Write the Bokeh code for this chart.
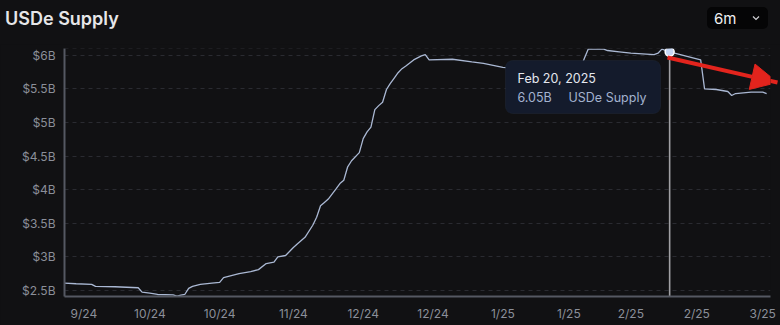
import pandas as pd
from bokeh.plotting import figure
from bokeh.layouts import column
from bokeh.models import (Range1d, FixedTicker, Label, BoxAnnotation, Arrow,
                          NormalHead, Span, Div)
from bokeh.embed import file_html
from bokeh.resources import INLINE

# ---------------- data ----------------
dates = [
    "2024-09-17", "2024-09-20", "2024-09-24", "2024-09-25", "2024-09-30",
    "2024-10-06", "2024-10-07", "2024-10-09", "2024-10-11", "2024-10-15",
    "2024-10-16", "2024-10-17", "2024-10-18", "2024-10-19", "2024-10-20",
    "2024-10-22", "2024-10-25", "2024-10-27", "2024-10-28", "2024-11-01",
    "2024-11-04", "2024-11-06", "2024-11-08", "2024-11-10", "2024-11-11",
    "2024-11-13", "2024-11-15", "2024-11-16", "2024-11-18", "2024-11-20",
    "2024-11-21", "2024-11-22", "2024-11-23", "2024-11-24", "2024-11-26",
    "2024-11-27", "2024-11-28", "2024-11-29", "2024-11-30", "2024-12-02",
    "2024-12-03", "2024-12-04", "2024-12-05", "2024-12-06", "2024-12-07",
    "2024-12-08", "2024-12-09", "2024-12-10", "2024-12-11", "2024-12-12",
    "2024-12-13", "2024-12-14", "2024-12-16", "2024-12-18", "2024-12-19",
    "2024-12-20", "2024-12-26", "2024-12-31", "2025-01-03", "2025-01-08",
    "2025-01-14", "2025-01-21", "2025-01-28", "2025-01-29", "2025-01-30",
    "2025-02-03", "2025-02-04", "2025-02-07", "2025-02-10", "2025-02-16",
    "2025-02-17", "2025-02-18", "2025-02-20", "2025-02-24", "2025-02-28",
    "2025-03-01", "2025-03-04", "2025-03-07", "2025-03-08", "2025-03-09",
    "2025-03-13", "2025-03-16", "2025-03-17",
]
supply_b = [
    2.61, 2.60, 2.59, 2.56, 2.555,
    2.54, 2.475, 2.46, 2.44, 2.435,
    2.415, 2.43, 2.44, 2.53, 2.56,
    2.59, 2.61, 2.62, 2.69, 2.75,
    2.78, 2.81, 2.90, 2.92, 3.00,
    3.02, 3.14, 3.19, 3.29, 3.47,
    3.59, 3.76, 3.81, 3.86, 4.01,
    4.09, 4.14, 4.34, 4.43, 4.55,
    4.76, 4.86, 4.93, 5.19, 5.25,
    5.30, 5.49, 5.58, 5.66, 5.74,
    5.80, 5.84, 5.93, 5.99, 6.01,
    5.93, 5.94, 5.90, 5.88, 5.82,
    5.80, 5.79, 5.80, 5.95, 6.09,
    6.09, 6.07, 6.05, 6.03, 6.01,
    6.03, 6.09, 6.05, 5.99, 5.93,
    5.50, 5.49, 5.46, 5.40, 5.43,
    5.45, 5.45, 5.43,
]

y_ticks = [2.5, 3, 3.5, 4, 4.5, 5, 5.5, 6]
y_tick_labels = ["$2.5B", "$3B", "$3.5B", "$4B", "$4.5B", "$5B", "$5.5B", "$6B"]

x_tick_dates = ["2024-09-22", "2024-10-09", "2024-10-27", "2024-11-15",
                "2024-12-03", "2024-12-21", "2025-01-08", "2025-01-25",
                "2025-02-10", "2025-02-27", "2025-03-16"]
x_tick_labels = ["9/24", "10/24", "10/24", "11/24", "12/24", "12/24",
                 "1/25", "1/25", "2/25", "2/25", "3/25"]

x_start, x_end = "2024-09-17", "2025-03-18"
y_start, y_end = 2.41, 6.10

title_text = "USDe Supply"
range_text = "6m"
tip_date = "2025-02-20"
tip_value = 6.05
tip_date_label = "Feb 20, 2025"
tip_value_label = "6.05B"
series_name = "USDe Supply"

# ---------------- styling ----------------
BG = "#111113"
TICK_COL = "#8b8f99"
FONT = "Inter"
HEADER_H = 44

header = Div(
    text=f"""
<div style="position:relative;width:780px;height:{HEADER_H + 2}px;background:{BG};
            font-family:Inter, 'Noto Sans', sans-serif;overflow:hidden;">
  <span style="position:absolute;left:5px;top:6px;font-size:18px;font-weight:600;
               color:#e6e6e8;">{title_text}</span>
  <div style="position:absolute;left:707px;top:7px;width:61px;height:22px;
              background:#050506;border-radius:5px;">
    <span style="position:absolute;left:7px;top:1px;font-size:15px;color:#f0f0f2;">{range_text}</span>
    <svg style="position:absolute;left:45px;top:8px" width="8" height="6" viewBox="0 0 8 6">
      <polyline points="1,1.5 4,4.5 7,1.5" fill="none" stroke="#d0d0d4" stroke-width="1.2"/>
    </svg>
  </div>
</div>""",
    width=780, height=HEADER_H, margin=0,
    styles={"background-color": BG, "margin": "0", "padding": "0", "overflow": "hidden"})

xs = pd.to_datetime(dates)
p = figure(width=780, height=325 - HEADER_H, x_axis_type="datetime",
           x_range=Range1d(pd.Timestamp(x_start), pd.Timestamp(x_end)),
           y_range=Range1d(y_start, y_end),
           output_backend="svg", toolbar_location=None, title=None,
           min_border_left=64, min_border_right=10,
           min_border_top=4, min_border_bottom=29, margin=0)
p.background_fill_color = BG
p.border_fill_color = BG
p.outline_line_color = None

# axes
tick_ms = [int(pd.Timestamp(d).value // 10**6) for d in x_tick_dates]
p.xaxis.ticker = FixedTicker(ticks=tick_ms)
p.xaxis.major_label_overrides = {t: l for t, l in zip(tick_ms, x_tick_labels)}
p.yaxis.ticker = FixedTicker(ticks=y_ticks)
p.yaxis.major_label_overrides = {
    (int(t) if float(t).is_integer() else t): l for t, l in zip(y_ticks, y_tick_labels)}
for ax in (p.xaxis, p.yaxis):
    ax.axis_line_color = "#555862"
    ax.axis_line_width = 2
    ax.major_tick_line_color = None
    ax.minor_tick_line_color = None
    ax.major_tick_out = 0
    ax.major_tick_in = 0
    ax.minor_tick_out = 0
    ax.major_label_text_color = TICK_COL
    ax.major_label_text_font = FONT
    ax.major_label_text_font_size = "12px"
p.yaxis.major_label_standoff = 9
p.xaxis.major_label_standoff = 9

p.xgrid.grid_line_color = None
p.ygrid.grid_line_color = "#2a2b31"
p.ygrid.grid_line_dash = "4 4"
p.ygrid.grid_line_width = 1
p.add_layout(Span(location=y_end, dimension="width", line_color="#2a2b31",
                  line_dash="4 4", line_width=1))

# series line
p.line(xs, supply_b, line_color="#aab8d3", line_width=1.3)

# hover crosshair + marker
td = pd.Timestamp(tip_date)
p.segment(x0=[td], y0=[y_start], x1=[td], y1=[tip_value],
          line_color="#a0a0a4", line_width=1.6)
p.scatter([td], [tip_value], size=9, fill_color="#c6d6f4",
          line_color="#ffffff", line_width=1.5)

# screen coordinate helpers (frame on the page: left=64, bottom=296)
def sx(cx):
    return cx - 64

def sy(cy):
    return 296 - cy

# tooltip box
p.add_layout(BoxAnnotation(left=sx(505), right=sx(660), top=sy(60), bottom=sy(113),
                           left_units="screen", right_units="screen",
                           top_units="screen", bottom_units="screen",
                           fill_color="#141b2c", fill_alpha=1.0,
                           line_color="#2c3447", line_width=1, border_radius=7,
                           level="annotation"))

def lab(cx, cy, text, color, size, align="left"):
    p.add_layout(Label(x=sx(cx), y=sy(cy), x_units="screen", y_units="screen",
                       text=text, text_color=color, text_font=FONT,
                       text_font_size=size, text_baseline="middle",
                       text_align=align, level="overlay"))

lab(517, 78, tip_date_label, "#e4e7ee", "12.5px")
lab(517, 97, tip_value_label, "#a3b2cf", "12.5px")
lab(646, 97, series_name, "#a3b2cf", "12.5px", align="right")

# red annotation arrow
p.add_layout(Arrow(x_start=sx(667), y_start=sy(57), x_end=sx(777), y_end=sy(82),
                   start_units="screen", end_units="screen",
                   line_color="#e3241d", line_width=4, level="overlay",
                   end=NormalHead(size=26, fill_color="#e3241d", line_color="#e3241d")))

layout = column(header, p, spacing=0, margin=0,
                styles={"background-color": BG})
open("out.html", "w").write(file_html(layout, INLINE))
